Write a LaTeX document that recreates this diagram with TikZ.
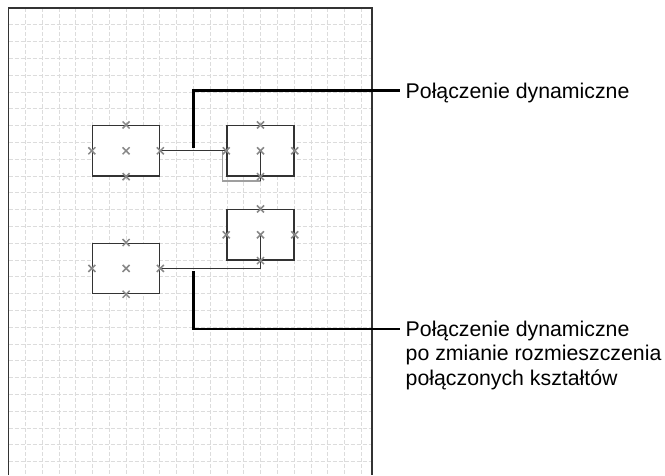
\documentclass[tikz,border=0pt]{standalone}
\usepackage{fontspec}
\setmainfont{Liberation Sans}
\usetikzlibrary{calc,shapes.misc}
\definecolor{gridc}{HTML}{DCDCDC}
\definecolor{edge}{HTML}{333333}
\definecolor{markc}{HTML}{888888}
\begin{document}
\begin{tikzpicture}[x=1pt,y=-1pt,
  shapebox/.style={draw=edge, fill=white, line width=1.3pt, minimum width=67.2pt, minimum height=50.4pt, inner sep=0pt},
  cpmark/.style={cross out, draw=markc, line width=1.5pt, minimum size=5.5pt, inner sep=0pt},
  conn/.style={draw=edge, line width=1.3pt},
  connhalo/.style={draw=gray!75, line width=1.3pt},
  callout/.style={draw=black, line width=2.4pt},
  gridline/.style={draw=gridc, line width=0.7pt, dash pattern=on 4pt off 2pt},
  lbl/.style={font=\fontsize{21.3}{24.5}\selectfont, inner sep=0pt, align=left}
]
\useasboundingbox (0,0) rectangle (665,475);
\fill[white] (0,0) rectangle (665,475);

% drawing page grid
\foreach \k in {1,...,21}
  \draw[gridline] (8.5+16.8*\k, 8) -- (8.5+16.8*\k, 475);
\foreach \k in {1,...,27}
  \draw[gridline] (8.5, 8+16.8*\k) -- (372, 8+16.8*\k);

% page border
\draw[edge, line width=1.6pt] (8.5,475) -- (8.5,8) -- (372,8) -- (372,475);

% shapes
\node[shapebox] (b1) at (126.1,150.8) {};
\node[shapebox] (b2) at (260.5,150.8) {};
\node[shapebox] (b3) at (126.1,268.4) {};
\node[shapebox] (b4) at (260.5,234.8) {};

% dynamic connectors
\draw[conn] (b1.east) -- (b2.west);
\draw[connhalo] ($(b2.west)+(-3.5,0)$) |- ($(b2.south)+(0,4.3)$);
\draw[conn] ($(b2.south)+(0,4.3)$) -- (b2.center);
\draw[conn] (b3.east) -| (b4.center);

% connection points
\foreach \b in {b1,b2,b3,b4}
  \foreach \a in {north,south,east,west,center}
    \node[cpmark] (\b-\a) at (\b.\a) {};

% labels and callouts
\node[lbl, anchor=base west] (l1) at (405.5,98.3) {Połączenie dynamiczne};
\node[lbl, anchor=north west] (l2) at (405.5,320.5)
  {Połączenie dynamiczne\\po zmianie rozmieszczenia\\połączonych kształtów};
\coordinate (k1) at (193.3,150.8);
\coordinate (k2) at (193.3,268.4);
\draw[callout, shorten <=2.5pt] (k1) |- ([xshift=-6pt,yshift=8pt]l1.base west);
\draw[callout, shorten <=3pt] (k2) |- ([xshift=-6pt,yshift=-8.5pt]l2.north west);
\end{tikzpicture}
\end{document}
